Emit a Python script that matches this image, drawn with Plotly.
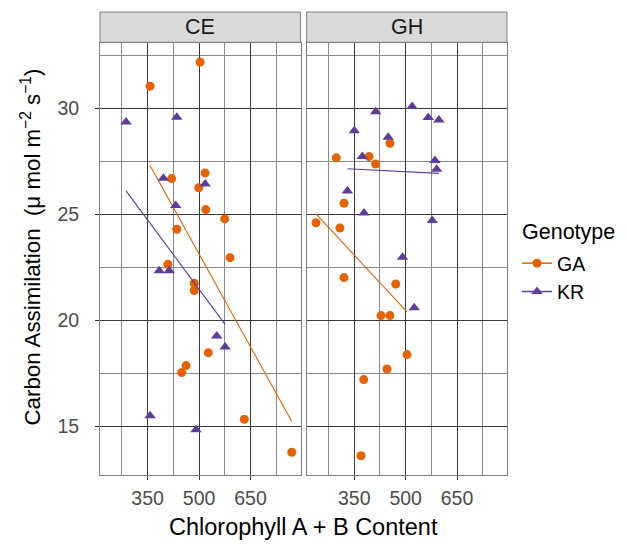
import numpy as np
import plotly.graph_objects as go

# ---- data ----
ce_ga_x = [503, 357, 420, 517.5, 499, 519.5, 575, 435, 590.5, 409, 486, 486, 527, 462, 449.5, 632, 770.5]
ce_ga_y = [32.18, 31.04, 26.68, 26.95, 26.25, 25.22, 24.78, 24.29, 22.95, 22.64, 21.75, 21.4, 18.47, 17.86, 17.53, 15.33, 13.77]

ce_kr_x = [287, 435, 396, 518, 432, 384, 413, 551.6, 576, 357, 491]
ce_kr_y = [29.35, 29.57, 26.7, 26.43, 25.41, 22.33, 22.33, 19.26, 18.74, 15.49, 14.83]

gh_ga_x = [454, 297.5, 393, 412.5, 320, 238, 308, 320, 471, 428, 454, 504, 445.5, 377.5, 369.5]
gh_ga_y = [28.35, 27.66, 27.72, 27.37, 25.52, 24.6, 24.35, 22.01, 21.71, 20.22, 20.22, 18.38, 17.7, 17.2, 13.61]

gh_kr_x = [519, 412.5, 566, 597, 350, 449, 373.5, 585.5, 590.5, 330, 378.3, 577.6, 491, 525]
gh_kr_y = [30.08, 29.83, 29.56, 29.45, 28.94, 28.63, 27.72, 27.53, 27.12, 26.1, 25.06, 24.7, 22.97, 20.59]

panels = ["CE", "GH"]
genotypes = ["GA", "KR"]
x_ticks = [350, 500, 650]
y_ticks = [15, 20, 25, 30]

COL = {"GA": "#E66101", "KR": "#5E3C99"}
SYM = {"GA": "circle", "KR": "triangle-up"}
SIZE = {"GA": 9, "KR": 10}

data = {
    ("CE", "GA"): (ce_ga_x, ce_ga_y),
    ("CE", "KR"): (ce_kr_x, ce_kr_y),
    ("GH", "GA"): (gh_ga_x, gh_ga_y),
    ("GH", "KR"): (gh_kr_x, gh_kr_y),
}

FONT = "Liberation Sans, Arial, sans-serif"

fig = go.Figure()
axis_ref = {"CE": ("x", "y"), "GH": ("x2", "y2")}

for p in panels:
    xa, ya = axis_ref[p]
    for g in genotypes:
        xs, ys = data[(p, g)]
        xs = np.array(xs, dtype=float)
        ys = np.array(ys, dtype=float)
        b, a = np.polyfit(xs, ys, 1)
        lx = np.array([xs.min(), xs.max()])
        fig.add_trace(go.Scatter(
            x=lx, y=a + b * lx, mode="lines", xaxis=xa, yaxis=ya,
            line=dict(color=COL[g], width=1.1), showlegend=False, hoverinfo="skip"))
        fig.add_trace(go.Scatter(
            x=xs, y=ys, mode="markers", xaxis=xa, yaxis=ya,
            marker=dict(color=COL[g], symbol=SYM[g], size=SIZE[g]),
            showlegend=False, name=g))

# legend entries (line + marker keys like ggplot)
for g in genotypes:
    fig.add_trace(go.Scatter(
        x=[None], y=[None], mode="lines+markers", name=g,
        line=dict(color=COL[g], width=1.5),
        marker=dict(color=COL[g], symbol=SYM[g], size=SIZE[g])))

# page has an 8px body margin; keep the figure sized so that no scrollbar appears
W, H = 619, 532
ml, mr, mt, mb = 92, 120, 4, 65
pw = W - ml - mr   # 407
ph = H - mt - mb   # 463


def px_x(px):  # px in window coordinates
    return (px - 100) / pw


def px_y(py):  # py in window coordinates
    return (475 - py) / ph


ytop = px_y(42.5)
d1 = [0, px_x(300.5)]
d2 = [px_x(306.7), 1]

MAJ = "#3a3a3a"
MIN = "#8a8a8a"
TICKFONT = dict(size=19.5, color="#4d4d4d", family=FONT)
xcommon = dict(range=[211, 796], tickmode="array", tickvals=x_ticks,
               showgrid=True, gridcolor=MAJ, gridwidth=0.9,
               minor=dict(tickmode="array", tickvals=[275, 425, 575, 725],
                          showgrid=True, gridcolor=MIN, gridwidth=0.6),
               ticks="outside", ticklen=4, tickcolor="#333333", tickwidth=0.8,
               tickfont=TICKFONT, ticklabelstandoff=2,
               showline=True, linecolor="#7f7f7f", linewidth=1, mirror=True,
               zeroline=False, automargin=False)
ycommon = dict(range=[12.7, 33.1], tickmode="array", tickvals=y_ticks,
               showgrid=True, gridcolor=MAJ, gridwidth=0.9,
               minor=dict(tickmode="array", tickvals=[17.5, 22.5, 27.5, 32.5],
                          showgrid=True, gridcolor=MIN, gridwidth=0.6),
               showline=True, linecolor="#7f7f7f", linewidth=1, mirror=True,
               zeroline=False, domain=[0, ytop], automargin=False)

fig.update_layout(
    width=W, height=H,
    margin=dict(l=ml, r=mr, t=mt, b=mb, autoexpand=False),
    paper_bgcolor="white", plot_bgcolor="white",
    font=dict(family=FONT, color="#1a1a1a"),
    xaxis=dict(domain=d1, anchor="y", **xcommon),
    xaxis2=dict(domain=d2, anchor="y2", **xcommon),
    yaxis=dict(anchor="x", ticks="outside", ticklen=4, tickcolor="#333333", tickwidth=0.8,
               tickfont=TICKFONT, ticklabelstandoff=12, **ycommon),
    yaxis2=dict(anchor="x2", matches="y", showticklabels=False, ticks="", **ycommon),
    legend=dict(x=px_x(517), xanchor="left", y=px_y(244), yanchor="top",
                font=dict(size=19.5, color="#000000", family=FONT),
                tracegroupgap=0, itemwidth=30, bgcolor="rgba(0,0,0,0)"),
    showlegend=True,
)

# legend title
fig.add_annotation(text="Genotype", xref="paper", yref="paper",
                   x=px_x(519.5), y=px_y(232), xanchor="left", yanchor="middle",
                   showarrow=False, font=dict(size=21.5, color="#000000", family=FONT))

# axis titles
fig.add_annotation(text="Chlorophyll A + B Content", xref="paper", yref="paper",
                   x=px_x(303.5), y=px_y(527), xanchor="center", yanchor="middle",
                   showarrow=False, font=dict(size=23.5, color="#000000", family=FONT))
fig.add_annotation(text="Carbon Assimilation  (\u03bc mol m<sup>\u22122</sup> s<sup>\u22121</sup>)",
                   xref="paper", yref="paper", x=px_x(30), y=px_y(247.5),
                   xanchor="center", yanchor="middle", textangle=-90, showarrow=False,
                   font=dict(size=22.3, color="#000000", family=FONT))

# facet strips
strip_bottom = px_y(42.3)
strip_top = px_y(12)
for p, d in zip(panels, [d1, d2]):
    fig.add_shape(type="rect", xref="paper", yref="paper",
                  x0=d[0], x1=d[1], y0=strip_bottom, y1=strip_top,
                  fillcolor="#d9d9d9", line=dict(color="#7f7f7f", width=1), layer="above")
    fig.add_annotation(text=p, xref="paper", yref="paper",
                       x=(d[0] + d[1]) / 2, y=(strip_bottom + strip_top) / 2,
                       xanchor="center", yanchor="middle", showarrow=False,
                       font=dict(size=21.5, color="#1a1a1a", family=FONT))

fig.write_html("out.html")
